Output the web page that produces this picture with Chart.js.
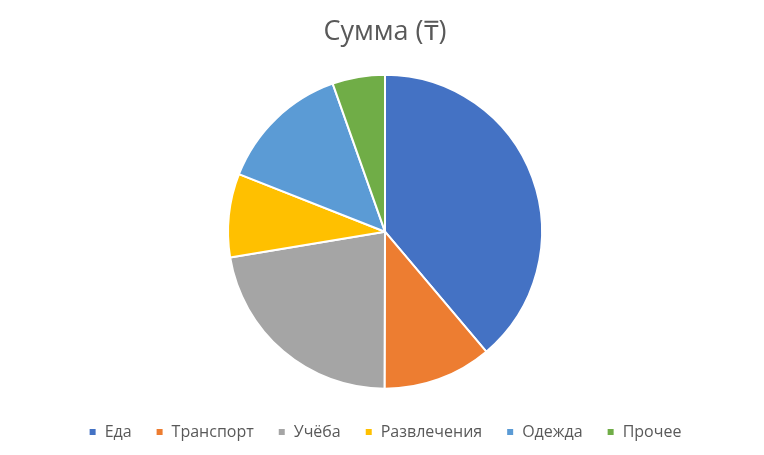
<!DOCTYPE html>
<html><head><meta charset="utf-8">
<script src="https://cdn.jsdelivr.net/npm/chart.js@4"></script>
<style>html,body{margin:0;padding:0;background:#fff}#w{width:764px;height:455px}</style>
</head><body><div id="w"><canvas id="c"></canvas></div>
<script>
const categories = ["Еда","Транспорт","Учёба","Развлечения","Одежда","Прочее"];
const values = [38.8, 11.2, 22.3, 8.6, 13.6, 5.4];
const colors = ["#4472C4","#ED7D31","#A5A5A5","#FFC000","#5B9BD5","#70AD47"];
const titleText = "Сумма (₸)";
new Chart(document.getElementById('c'), {
  type: 'pie',
  data: { labels: categories, datasets: [{ data: values, backgroundColor: colors, borderColor: '#fff', borderWidth: 2 }] },
  options: {
    responsive: true, maintainAspectRatio: false, animation: false,
    radius: 157,
    layout: { padding: { top: 10, bottom: 5, left: 6 } },
    plugins: {
      title: { display: true, text: titleText, color: '#595959', font: { family: 'Open Sans', size: 27, weight: 'normal' }, padding: { top: 6, bottom: 15 } },
      legend: { position: 'bottom', labels: { boxWidth: 8, boxHeight: 8, color: '#595959', font: { family: 'Open Sans', size: 16 }, padding: 24 } },
      tooltip: { enabled: false }
    }
  }
});
</script></body></html>
